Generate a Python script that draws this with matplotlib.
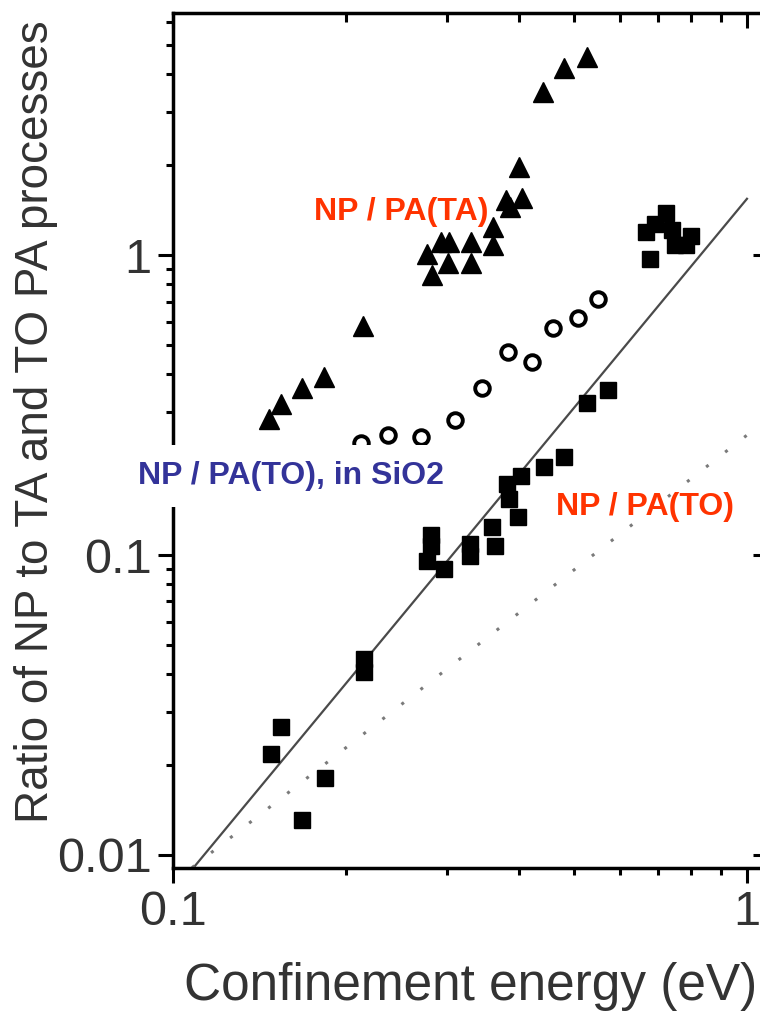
import matplotlib
matplotlib.use("Agg")
import matplotlib.pyplot as plt
from matplotlib import font_manager
from matplotlib.ticker import LogLocator, NullFormatter

# === данные ===
# NP / PA(TA): filled triangles
ta_energy = [0.147, 0.154, 0.168, 0.183, 0.214, 0.283, 0.277, 0.293, 0.302, 0.301,
             0.330, 0.330, 0.361, 0.361, 0.380, 0.405, 0.387, 0.401, 0.441, 0.480, 0.526]
ta_ratio = [0.284, 0.319, 0.360, 0.392, 0.580, 0.858, 1.008, 1.105, 1.105, 0.940,
            1.105, 0.940, 1.080, 1.240, 1.525, 1.549, 1.445, 1.965, 3.494, 4.201, 4.571]

# NP / PA(TO) in SiO2: open circles
sio2_energy = [0.213, 0.237, 0.270, 0.310, 0.345, 0.383, 0.422, 0.459, 0.508, 0.550]
sio2_ratio = [0.236, 0.251, 0.247, 0.282, 0.360, 0.475, 0.440, 0.571, 0.617, 0.714]

# NP / PA(TO): filled squares
to_energy = [0.667, 0.692, 0.722, 0.740, 0.749, 0.783, 0.799, 0.678,
             0.573, 0.526, 0.480, 0.443, 0.404, 0.382, 0.385, 0.399, 0.360, 0.364,
             0.329, 0.329, 0.282, 0.282, 0.277, 0.297,
             0.215, 0.215, 0.154, 0.148, 0.184, 0.168]
to_ratio = [1.193, 1.269, 1.380, 1.212, 1.080, 1.080, 1.157, 0.970,
            0.355, 0.321, 0.212, 0.197, 0.183, 0.172, 0.154, 0.134, 0.124, 0.107,
            0.109, 0.099, 0.117, 0.107, 0.0955, 0.0899,
            0.0450, 0.0407, 0.0267, 0.0217, 0.0181, 0.0131]

# straight lines on log-log axes (end points)
fit_energy = [0.1, 1.0]
fit_ratio = [0.0075, 1.54]
calc_energy = [0.1, 1.0]
calc_ratio = [0.0081, 0.251]

x_ticks = [0.1, 1]
x_tick_labels = ["0.1", "1"]
y_ticks = [0.01, 0.1, 1]
y_tick_labels = ["0.01", "0.1", "1"]

# === шрифты ===
installed = {f.name for f in font_manager.fontManager.ttflist}
narrow = "Liberation Sans Narrow" if "Liberation Sans Narrow" in installed else "Liberation Sans"
plt.rcParams["font.family"] = ["Liberation Sans", "DejaVu Sans"]

W, H = 760, 1014
fig = plt.figure(figsize=(W / 100, H / 100), dpi=100)
ax = fig.add_axes([173 / W, 1 - 868 / H, (768 - 173) / W, (868 - 13) / H])

ax.set_xscale("log")
ax.set_yscale("log")
ax.set_xlim(0.1, 1.088)
ax.set_ylim(0.00905, 6.41)

# lines
ax.plot(fit_energy, fit_ratio, color="#4a4a4a", lw=1.6, zorder=2)
ax.plot(calc_energy, calc_ratio, color="#7a7a7a", lw=2.2,
        linestyle=(0, (1, 6.9)), zorder=2)

# points
ax.plot(ta_energy, ta_ratio, linestyle="none", marker="^", ms=14,
        color="black", mec="black", zorder=3)
ax.plot(sio2_energy, sio2_ratio, linestyle="none", marker="o", ms=10.5,
        mfc="none", mec="black", mew=2.8, zorder=3)
ax.plot(to_energy, to_ratio, linestyle="none", marker="s", ms=12,
        color="black", mec="black", zorder=3)

# ticks and spines
ax.set_xticks(x_ticks)
ax.set_xticklabels(x_tick_labels)
ax.set_yticks(y_ticks)
ax.set_yticklabels(y_tick_labels)
ax.xaxis.set_minor_locator(LogLocator(base=10, subs=range(2, 10)))
ax.yaxis.set_minor_locator(LogLocator(base=10, subs=range(2, 10)))
ax.xaxis.set_minor_formatter(NullFormatter())
ax.yaxis.set_minor_formatter(NullFormatter())
ax.tick_params(which="major", direction="out", length=10.5, width=2.2,
               labelsize=35, labelcolor="#333333")
ax.tick_params(which="minor", direction="out", length=5.2, width=2.2)
ax.tick_params(axis="x", which="major", pad=5)
ax.tick_params(axis="y", which="major", pad=5)
for lab in ax.get_xticklabels() + ax.get_yticklabels():
    lab.set_family(narrow)
for side in ax.spines.values():
    side.set_linewidth(2.5)

# top / right ticks point inwards
axt = ax.twiny()
axt.set_xscale("log")
axt.set_xlim(ax.get_xlim())
axt.tick_params(which="major", direction="in", length=10.5, width=2.2, labeltop=False)
axt.tick_params(which="minor", direction="in", length=6.5, width=2.2)
axr = ax.twinx()
axr.set_yscale("log")
axr.set_ylim(ax.get_ylim())
axr.tick_params(which="major", direction="in", length=10.5, width=2.2, labelright=False)
axr.tick_params(which="minor", direction="in", length=4.0, width=2.2)
for extra in (axt, axr):
    for side in extra.spines.values():
        side.set_visible(False)

# axis titles
fig.text(471 / W, 1 - 1000 / H, "Confinement energy (eV)", ha="center", va="baseline",
         fontsize=37, color="#333333")
fig.text(36 / W, 1 - 422 / H, "Ratio of NP to TA and TO PA processes", rotation=90,
         ha="center", va="center", fontsize=33, color="#333333")

# series labels
fig.text(401 / W, 1 - 220 / H, "NP / PA(TA)", ha="center", va="baseline",
         fontsize=23, fontweight="bold", color="#ff3300")
fig.text(291 / W, 1 - 484 / H, "NP / PA(TO), in SiO2", ha="center", va="baseline",
         fontsize=23, fontweight="bold", color="#333399",
         bbox=dict(boxstyle="square,pad=0.5", fc="white", ec="none"))
fig.text(645 / W, 1 - 515 / H, "NP / PA(TO)", ha="center", va="baseline",
         fontsize=23, fontweight="bold", color="#ff3300")

fig.savefig("out.png", dpi=100)
